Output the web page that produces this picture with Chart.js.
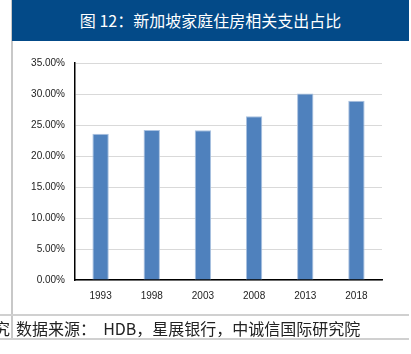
<!DOCTYPE html>
<html><head><meta charset="utf-8">
<script src="https://cdn.jsdelivr.net/npm/chart.js@4/dist/chart.umd.min.js"></script>
<style>
html,body{margin:0;padding:0;background:#fff;}
#wrap{position:relative;width:411px;height:354px;overflow:hidden;}
#c{position:absolute;left:0;top:0;}
.t{position:absolute;left:12px;top:0;width:397px;height:41px;background:#034a88;color:#fff;font:16px "Noto Sans CJK SC";text-align:center;line-height:41px;}
.vl{position:absolute;left:11px;top:0;width:2px;height:340px;background:#c8c8c8;}
.hl{position:absolute;left:0;width:409px;height:2px;background:#d0d0d0;}
.f{position:absolute;top:316px;height:22px;line-height:22px;font:16px "Noto Sans CJK SC";color:#222;white-space:pre;}
</style></head><body>
<div id="wrap">
<canvas id="c" width="411" height="354"></canvas>
<div class="vl"></div>
<div class="t">图 12：新加坡家庭住房相关支出占比</div>
<div class="hl" style="top:314px"></div>
<div class="hl" style="top:338px"></div>
<div class="f" style="left:-6px">究</div>
<div class="f" style="left:16px">数据来源：  HDB，星展银行，中诚信国际研究院</div>
</div>
<script>
const categories = ["1993","1998","2003","2008","2013","2018"];
const values = [23.6, 24.2, 24.15, 26.4, 30.1, 28.9];
const yTicks = [0,5,10,15,20,25,30,35];

new Chart(document.getElementById('c'), {
  type: 'bar',
  data: { labels: categories, datasets: [{ data: values, backgroundColor: '#4f81bd', borderColor:'#a9c1e0', borderWidth:{top:1,left:1,right:1,bottom:0}, barPercentage: 0.32, categoryPercentage: 1 }] },
  options: {
    responsive: false, animation: false,
    layout: { padding: { left: 0, right: 29, top: 63, bottom: 0 } },
    plugins: { legend: { display: false }, tooltip: { enabled: false } },
    scales: {
      x: {
        grid: { display: false, drawTicks: false },
        border: { color: '#000', width: 1.5 },
        ticks: { color: '#222', font: { family: 'Liberation Sans, Arial', size: 10 }, padding: 10, maxRotation: 0 },
        afterFit: s => { s.height = 74; }
      },
      y: {
        min: 0, max: 35,
        afterBuildTicks: s => { s.ticks = yTicks.map(v => ({ value: v })); },
        grid: { color: '#d9d9d9', lineWidth: 1, drawTicks: false },
        border: { color: '#000', width: 1.5 },
        ticks: { color: '#222', font: { family: 'Liberation Sans, Arial', size: 10 }, padding: 10, callback: v => v.toFixed(2) + '%' },
        afterFit: s => { s.width = 75; }
      }
    }
  }
});
</script>
</body></html>
